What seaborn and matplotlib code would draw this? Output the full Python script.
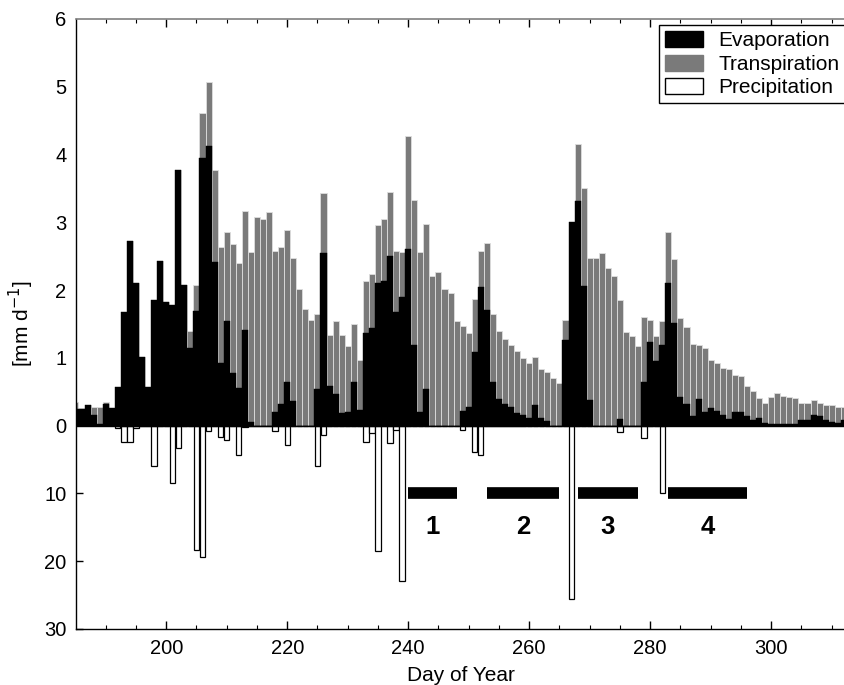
import numpy as np
import pandas as pd
import matplotlib
matplotlib.use("Agg")
import matplotlib.pyplot as plt
from matplotlib.patches import Patch
from matplotlib.ticker import MultipleLocator
import seaborn as sns

# ---- data ----
days = list(range(185, 313))

# evaporation, mm/d (black, bottom of stack)
evaporation = [
    0.25, 0.24, 0.31, 0.16, 0.03, 0.32, 0.26, 0.57, 1.67, 2.72,   # 185-194
    2.11, 1.01, 0.57, 1.86, 2.43, 1.83, 1.78, 3.77, 2.08, 1.15,   # 195-204
    1.69, 3.95, 4.13, 2.42, 0.92, 1.54, 0.77, 0.56, 1.41, 0.05,   # 205-214
    0.00, 0.00, 0.00, 0.20, 0.32, 0.65, 0.37, 0.00, 0.00, 0.00,   # 215-224
    0.54, 2.54, 0.58, 0.47, 0.18, 0.20, 0.64, 0.23, 1.37, 1.44,   # 225-234
    2.10, 2.14, 2.51, 1.68, 1.90, 2.61, 1.19, 0.20, 0.54, 0.00,   # 235-244
    0.00, 0.00, 0.00, 0.00, 0.22, 0.27, 1.09, 2.05, 1.70, 0.64,   # 245-254
    0.40, 0.32, 0.27, 0.19, 0.15, 0.12, 0.30, 0.12, 0.07, 0.00,   # 255-264
    0.00, 1.27, 3.01, 3.31, 2.06, 0.38, 0.00, 0.00, 0.00, 0.00,   # 265-274
    0.10, 0.00, 0.00, 0.00, 0.65, 1.23, 0.95, 1.19, 2.10, 1.52,   # 275-284
    0.42, 0.32, 0.14, 0.40, 0.20, 0.26, 0.22, 0.16, 0.10, 0.20,   # 285-294
    0.20, 0.14, 0.09, 0.11, 0.04, 0.03, 0.03, 0.02, 0.02, 0.03,   # 295-304
    0.08, 0.08, 0.16, 0.14, 0.08, 0.06, 0.04, 0.08,               # 305-312
]

# transpiration, mm/d (grey, stacked on top)
transpiration = [
    0.10, 0.02, 0.00, 0.11, 0.24, 0.03, 0.00, 0.00, 0.00, 0.00,   # 185-194
    0.00, 0.00, 0.00, 0.00, 0.00, 0.00, 0.00, 0.00, 0.00, 0.24,   # 195-204
    0.38, 0.66, 0.94, 1.35, 1.71, 1.32, 1.91, 1.84, 1.75, 2.51,   # 205-214
    3.08, 3.05, 3.15, 2.38, 2.31, 2.24, 2.10, 2.01, 1.72, 1.56,   # 215-224
    1.11, 0.89, 0.75, 1.07, 1.16, 0.98, 0.86, 0.74, 0.77, 0.80,   # 225-234
    0.86, 0.91, 0.93, 0.90, 0.66, 1.67, 2.14, 2.36, 2.43, 2.21,   # 235-244
    2.27, 2.02, 1.96, 1.54, 1.25, 1.10, 0.78, 0.52, 0.99, 1.00,   # 245-254
    1.00, 0.96, 0.92, 0.91, 0.85, 0.80, 0.71, 0.71, 0.72, 0.70,   # 255-264
    0.63, 0.29, 0.00, 0.85, 1.44, 2.10, 2.48, 2.54, 2.33, 2.21,   # 265-274
    1.76, 1.38, 1.32, 1.18, 0.95, 0.33, 0.37, 0.35, 0.76, 0.94,   # 275-284
    1.17, 1.13, 1.06, 0.79, 0.94, 0.71, 0.70, 0.69, 0.74, 0.54,   # 285-294
    0.53, 0.44, 0.42, 0.30, 0.29, 0.39, 0.45, 0.42, 0.40, 0.38,   # 295-304
    0.25, 0.25, 0.22, 0.19, 0.23, 0.25, 0.24, 0.20,               # 305-312
]

# precipitation, mm/d (white bars, drawn downward, axis scale /10)
precip_days = [192, 193, 194, 195, 198, 201, 202, 205, 206, 207, 209, 210,
               212, 213, 218, 220, 225, 226, 233, 234, 235, 237, 238, 239,
               249, 251, 252, 267, 275, 279, 282]
precip_mm = [0.35, 2.36, 2.36, 0.35, 6.0, 8.4, 3.35, 18.3, 19.4, 0.85, 1.7, 2.1,
             4.35, 0.2, 0.85, 2.85, 6.0, 1.35, 2.45, 1.1, 18.5, 2.55, 0.6, 22.9,
             0.65, 3.85, 4.35, 25.6, 0.95, 1.8, 10.0]

# measurement periods
period_labels = ["1", "2", "3", "4"]
period_start = [240, 253, 268, 283]
period_end = [248, 265, 278, 296]
period_level = 10   # mm on precipitation scale
label_level = 15

ytick_pos = [6, 5, 4, 3, 2, 1, 0, -1, -2, -3]
ytick_text = ["6", "5", "4", "3", "2", "1", "0", "10", "20", "30"]

df = pd.DataFrame({"day": days, "evap": evaporation, "transp": transpiration})
df["total"] = df["evap"] + df["transp"]
pr = pd.DataFrame({"day": precip_days, "p": precip_mm})
pr["scaled"] = -pr["p"] / 10.0

# ---- plot ----
sns.set_theme(style="ticks")
plt.rcParams["font.family"] = ["Liberation Sans", "DejaVu Sans"]
plt.rcParams["text.color"] = "black"
plt.rcParams["axes.labelcolor"] = "black"
plt.rcParams["xtick.color"] = "black"
plt.rcParams["ytick.color"] = "black"

GREY = "#7a7a7a"
fig = plt.figure(figsize=(8.45, 6.85), dpi=100)
ax = fig.add_axes([0.090, 0.0818, 0.910, 0.8905])

sns.histplot(data=df, x="day", weights="total", discrete=True, color=GREY,
             edgecolor="#dedede", linewidth=0.6, alpha=1, ax=ax)
sns.histplot(data=df, x="day", weights="evap", discrete=True, color="black",
             edgecolor="black", linewidth=0.3, alpha=1, ax=ax)
sns.histplot(data=pr, x="day", weights="scaled", discrete=True, shrink=0.88,
             color="white", edgecolor="black", linewidth=0.9, alpha=1, ax=ax)
ax.axhline(0, color="black", lw=1.0, zorder=5)

for lab, s, e in zip(period_labels, period_start, period_end):
    ax.hlines(-period_level / 10, s, e, colors="black", lw=8.4, capstyle="butt", zorder=6)
    ax.text((s + e) / 2, -label_level / 10, lab, ha="center", va="center",
            fontsize=18.5, fontweight="bold")

ax.set_xlim(185.1, 312.2)
ax.set_ylim(-3, 6)
ax.set_yticks(ytick_pos)
ax.set_yticklabels(ytick_text)
ax.xaxis.set_major_locator(MultipleLocator(20))
ax.xaxis.set_minor_locator(MultipleLocator(5))
ax.tick_params(axis="x", which="both", direction="in", top=True, bottom=True,
               labelsize=14.5, pad=7)
ax.tick_params(axis="x", which="major", length=5.5, width=1)
ax.tick_params(axis="x", which="minor", length=3, width=0.8)
ax.tick_params(axis="y", direction="in", length=5, width=1, labelsize=14.5, pad=7)
for t, v in zip(ax.yaxis.get_major_ticks(), ytick_pos):
    if v >= 0:
        t.tick1line.set_visible(False)

ax.set_xlabel("Day of Year", fontsize=15, labelpad=6)
ax.set_ylabel("[mm d$^{-1}$]", fontsize=15, labelpad=6)

for side in ["left", "bottom"]:
    ax.spines[side].set_color("black")
    ax.spines[side].set_linewidth(1.0)
ax.spines["top"].set_color("#808080")
ax.spines["top"].set_linewidth(1.2)
ax.spines["right"].set_visible(False)

handles = [Patch(facecolor="black", edgecolor="black", label="Evaporation"),
           Patch(facecolor=GREY, edgecolor=GREY, label="Transpiration"),
           Patch(facecolor="white", edgecolor="black", label="Precipitation")]
leg = ax.legend(handles=handles, loc="upper right",
                bbox_to_anchor=(846 / 845, (685 - 25) / 685),
                bbox_transform=fig.transFigure, borderaxespad=0, fontsize=15,
                frameon=True, fancybox=False, handlelength=1.83, handleheight=0.8,
                handletextpad=0.75, labelspacing=0.2, borderpad=0.3)
leg.get_frame().set_edgecolor("black")
leg.get_frame().set_linewidth(1.0)
leg.get_frame().set_alpha(1)

fig.savefig("out.png", dpi=100)
